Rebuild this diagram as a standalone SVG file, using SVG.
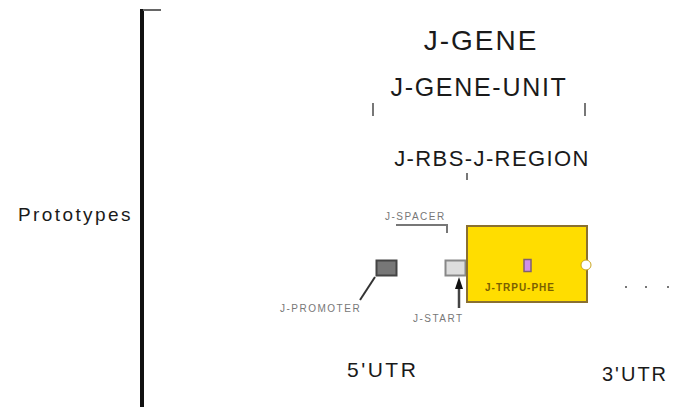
<svg xmlns="http://www.w3.org/2000/svg" width="675" height="407" viewBox="0 0 675 407">
<style>
.big{font-family:"Liberation Sans",Arial,sans-serif;fill:#1a1a1a;}
.small{font-family:"Liberation Sans",Arial,sans-serif;fill:#777;font-size:10px;letter-spacing:1.5px;}
.tick{stroke:#777;stroke-width:2;fill:none;}
</style>
<rect width="675" height="407" fill="#fff"/>
<g id="prototypes">
<line x1="142" y1="9" x2="142" y2="407" stroke="#111" stroke-width="4"/>
<line x1="143" y1="10" x2="161" y2="10" stroke="#666" stroke-width="2"/>
<text class="big" x="18" y="221" font-size="19" letter-spacing="2.4" fill="#444">Prototypes</text>
</g>
<g id="j-gene">
<text class="big" x="481" y="50" font-size="28" letter-spacing="2" text-anchor="middle">J-GENE</text>
</g>
<g id="j-gene-unit">
<text class="big" x="479" y="96" font-size="25" letter-spacing="1.7" text-anchor="middle">J-GENE-UNIT</text>
<line class="tick" x1="373" y1="103" x2="373" y2="116"/>
<line class="tick" x1="585" y1="103" x2="585" y2="116"/>
</g>
<g id="j-rbs-j-region">
<text class="big" x="492" y="166" font-size="22" letter-spacing="1.4" text-anchor="middle" fill="#333">J-RBS-J-REGION</text>
<line class="tick" x1="467" y1="173" x2="467" y2="180"/>
</g>
<g id="spacer">
<text class="small" x="385" y="220">J-SPACER</text>
<path d="M396,225 H447 V233" class="tick"/>
</g>
<g id="part-dark">
<rect x="376.5" y="260.5" width="20" height="15" fill="#777" stroke="#444" stroke-width="2"/>
</g>
<g id="part-light">
<rect x="445.5" y="260.5" width="20" height="15" fill="#ddd" stroke="#888" stroke-width="2"/>
</g>
<g id="cds">
<rect x="467" y="226" width="120" height="76" fill="#ffdd00" stroke="#8a7030" stroke-width="2"/>
<rect x="524" y="259.5" width="7" height="12" fill="#d090e8" stroke="#806070" stroke-width="1.5"/>
<text x="520" y="291" font-family="Liberation Sans,Arial,sans-serif" font-size="10" font-weight="bold" letter-spacing="1" text-anchor="middle" fill="#7a6000">J-TRPU-PHE</text>
<circle cx="586" cy="265" r="5" fill="#fff" stroke="#c9a520" stroke-width="1"/>
</g>
<g id="connectors">
<line x1="375" y1="277" x2="360" y2="300" stroke="#333" stroke-width="2"/>
<line x1="459" y1="308" x2="459" y2="284" stroke="#444" stroke-width="2.5"/>
<polygon points="459,277 455,289 463,289" fill="#111"/>
</g>
<g id="labels">
<text class="small" x="280" y="312">J-PROMOTER</text>
<text class="small" x="413" y="322">J-START</text>
<rect x="625" y="286" width="2" height="2" fill="#777"/>
<rect x="645" y="286" width="2" height="2" fill="#777"/>
<rect x="667" y="286" width="2" height="2" fill="#777"/>
</g>
<g id="utr5">
<text class="big" x="347" y="377" font-size="21" letter-spacing="2.5" fill="#333">5'UTR</text>
</g>
<g id="utr3">
<text class="big" x="602" y="381" font-size="20" letter-spacing="2" fill="#333">3'UTR</text>
</g>
</svg>
